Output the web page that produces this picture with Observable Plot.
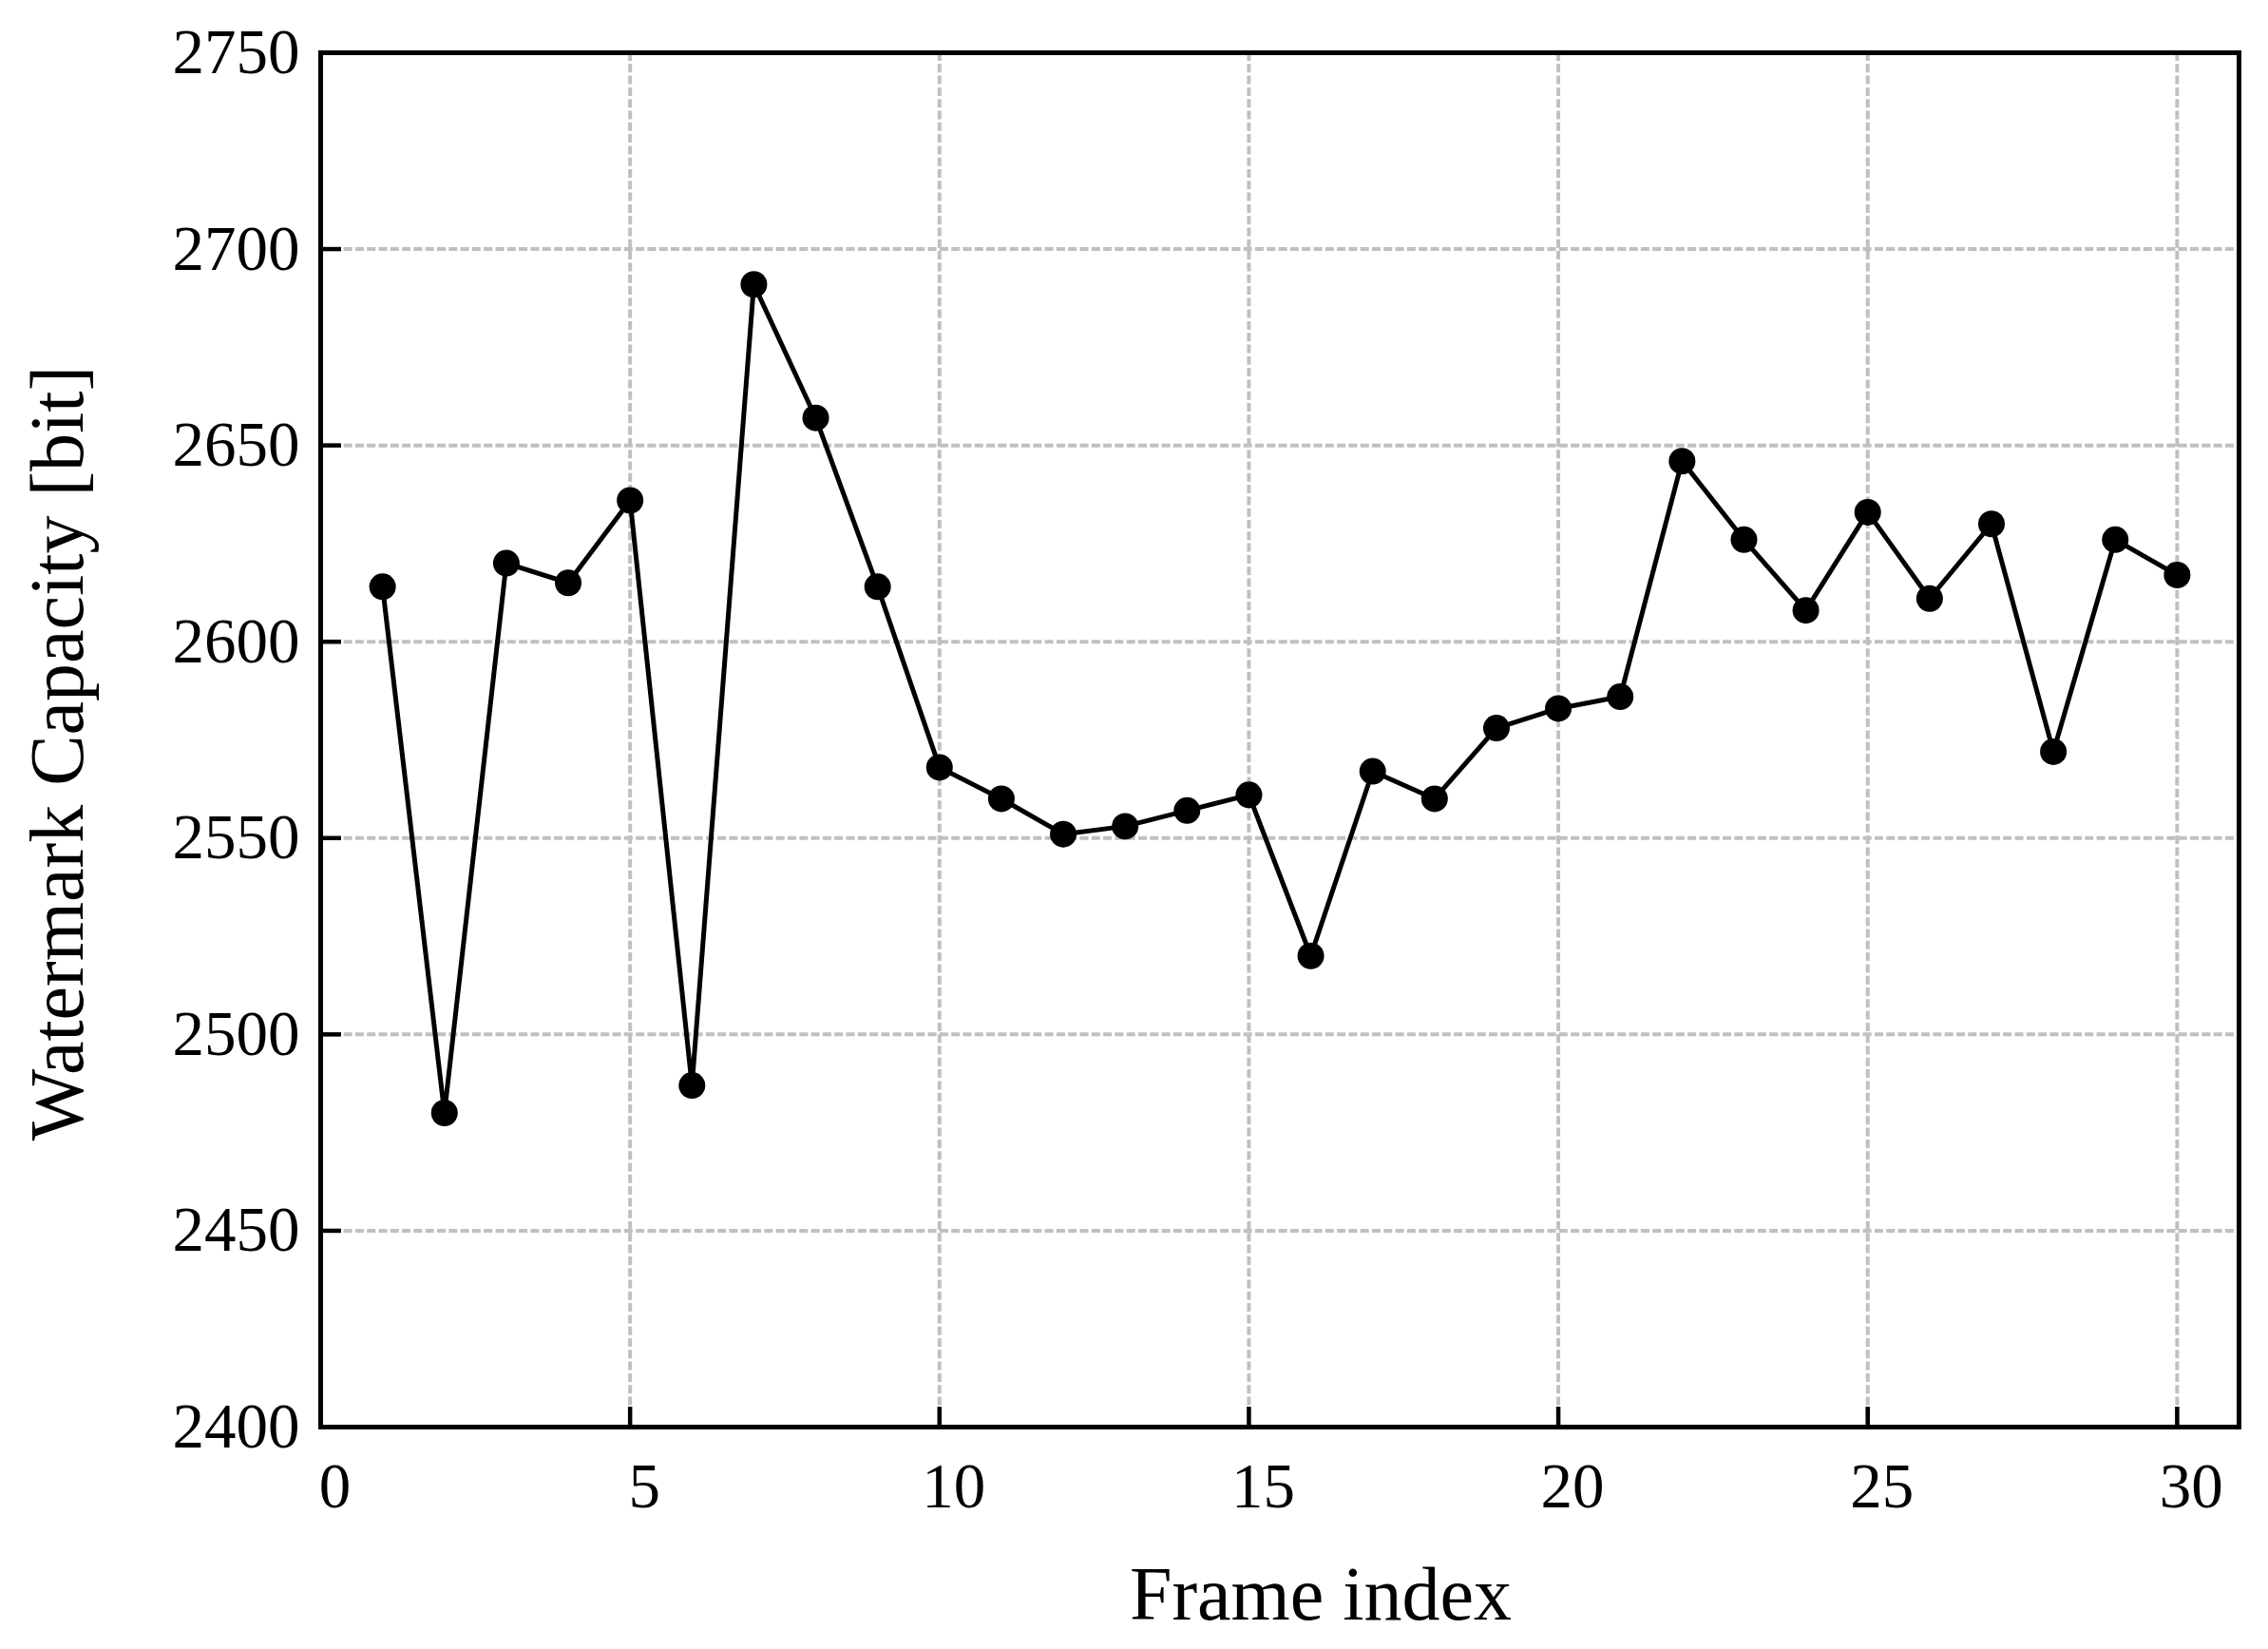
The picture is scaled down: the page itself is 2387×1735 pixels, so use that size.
<!DOCTYPE html>
<html><head><meta charset="utf-8">
<script src="https://cdn.jsdelivr.net/npm/d3@7"></script>
<script src="https://cdn.jsdelivr.net/npm/@observablehq/plot@0.6"></script>
<style>html,body{margin:0;padding:0;background:#fff}</style>
</head><body><div id="chart"></div>
<script>
const frames = [1,2,3,4,5,6,7,8,9,10,11,12,13,14,15,16,17,18,19,20,21,22,23,24,25,26,27,28,29,30];
const capacity = [2614,2480,2620,2615,2636,2487,2691,2657,2614,2568,2560,2551,2553,2557,2561,2520,2567,2560,2578,2583,2586,2646,2626,2608,2633,2611,2630,2572,2626,2617];
const xTicks = [0,5,10,15,20,25,30];
const yTicks = [2400,2450,2500,2550,2600,2650,2700,2750];
const xLabel = "Frame index";
const yLabel = "Watermark Capacity [bit]";

const data = frames.map((f, i) => ({frame: f, capacity: capacity[i]}));
const W = 2387, H = 1735, mL = 337, mR = 31, mT = 55, mB = 234;
const plotW = W - mL - mR, plotH = H - mT - mB;
const gridStyle = {stroke: "#c0c0c0", strokeOpacity: 1, strokeWidth: 4, strokeDasharray: "9,3.3"};
const fmt = d => String(d);

const chart = Plot.plot({
  width: W, height: H,
  marginLeft: mL, marginRight: mR, marginTop: mT, marginBottom: mB,
  style: {fontFamily: "'Liberation Serif', 'Times New Roman', serif", fontSize: "67px", color: "#000", background: "#fff"},
  x: {domain: [0, 31], ticks: xTicks, label: null},
  y: {domain: [2400, 2750], ticks: yTicks, label: null},
  marks: [
    Plot.gridX(xTicks, gridStyle),
    Plot.gridY(yTicks, gridStyle),
    Plot.tickX(xTicks, {x: d => d, stroke: "#000", strokeWidth: 4.5, insetTop: plotH - 21}),
    Plot.tickY(yTicks, {y: d => d, stroke: "#000", strokeWidth: 4.5, insetRight: plotW - 22}),
    Plot.frame({stroke: "#000", strokeWidth: 5}),
    Plot.axisX(xTicks, {tickSize: 0, tickPadding: 37, dx: 15, fontSize: 67, label: null, fill: "#000", tickFormat: fmt}),
    Plot.axisY(yTicks, {tickSize: 0, tickPadding: 22, fontSize: 67, label: null, fill: "#000", tickFormat: fmt}),
    Plot.line(data, {x: "frame", y: "capacity", stroke: "#000", strokeWidth: 5}),
    Plot.dot(data, {x: "frame", y: "capacity", r: 14, fill: "#000", stroke: "none"}),
    Plot.text([xLabel], {text: d => d, frameAnchor: "bottom", textAnchor: "middle", dx: 43, dy: 202, fontSize: 80, fill: "#000"}),
    Plot.text([yLabel], {text: d => d, frameAnchor: "left", textAnchor: "middle", rotate: -90, dx: -276, dy: 14, fontSize: 80, fill: "#000"})
  ]
});
document.getElementById("chart").appendChild(chart);
</script>
</body></html>
